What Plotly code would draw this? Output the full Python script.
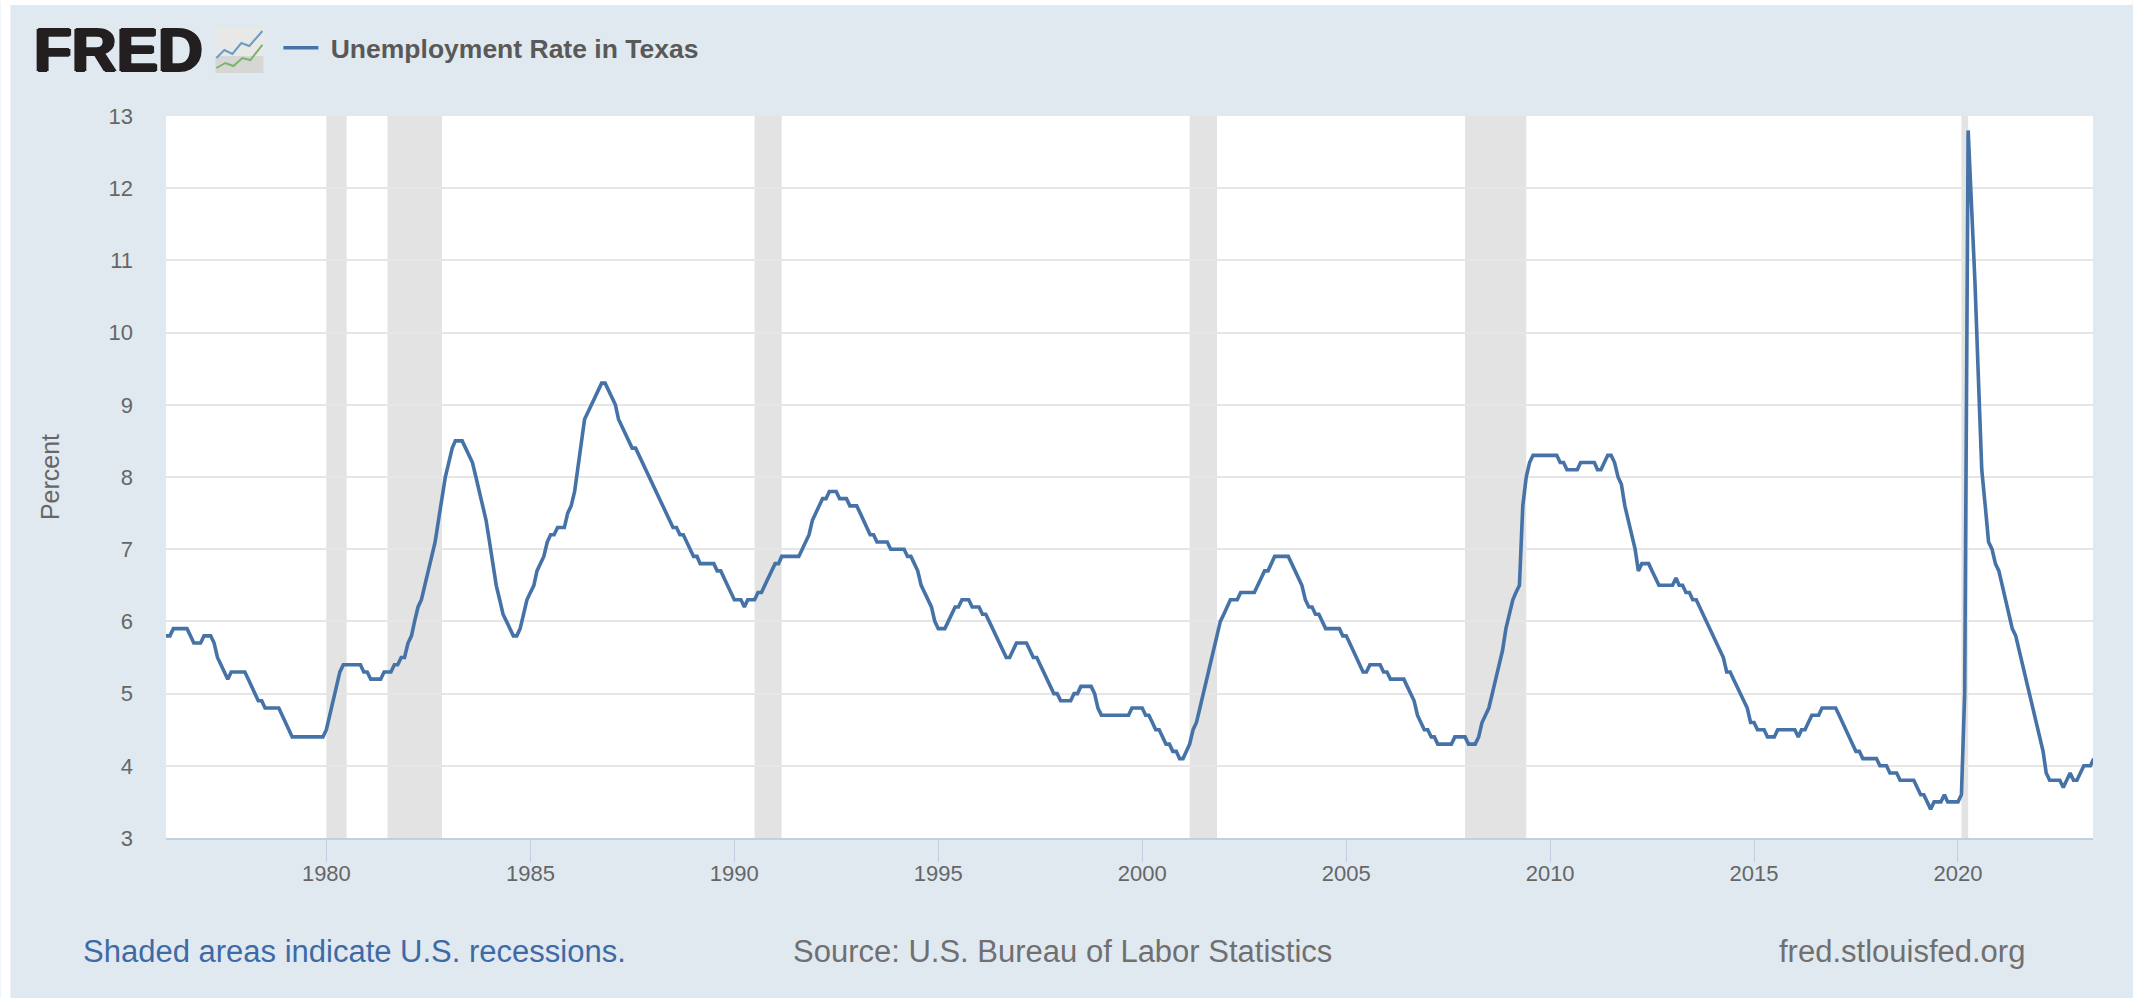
import pandas as pd
import plotly.graph_objects as go

# Monthly unemployment rate, percent (January to December)
y1976 = [5.8, 5.8, 5.8, 5.9, 5.9, 5.9, 5.9, 5.9, 5.8, 5.7, 5.7, 5.7]
y1977 = [5.8, 5.8, 5.8, 5.7, 5.5, 5.4, 5.3, 5.2, 5.3, 5.3, 5.3, 5.3]
y1978 = [5.3, 5.2, 5.1, 5.0, 4.9, 4.9, 4.8, 4.8, 4.8, 4.8, 4.8, 4.7]
y1979 = [4.6, 4.5, 4.4, 4.4, 4.4, 4.4, 4.4, 4.4, 4.4, 4.4, 4.4, 4.4]
y1980 = [4.5, 4.7, 4.9, 5.1, 5.3, 5.4, 5.4, 5.4, 5.4, 5.4, 5.4, 5.3]
y1981 = [5.3, 5.2, 5.2, 5.2, 5.2, 5.3, 5.3, 5.3, 5.4, 5.4, 5.5, 5.5]
y1982 = [5.7, 5.8, 6.0, 6.2, 6.3, 6.5, 6.7, 6.9, 7.1, 7.4, 7.7, 8.0]
y1983 = [8.2, 8.4, 8.5, 8.5, 8.5, 8.4, 8.3, 8.2, 8.0, 7.8, 7.6, 7.4]
y1984 = [7.1, 6.8, 6.5, 6.3, 6.1, 6.0, 5.9, 5.8, 5.8, 5.9, 6.1, 6.3]
y1985 = [6.4, 6.5, 6.7, 6.8, 6.9, 7.1, 7.2, 7.2, 7.3, 7.3, 7.3, 7.5]
y1986 = [7.6, 7.8, 8.1, 8.4, 8.8, 8.9, 9.0, 9.1, 9.2, 9.3, 9.3, 9.2]
y1987 = [9.1, 9.0, 8.8, 8.7, 8.6, 8.5, 8.4, 8.4, 8.3, 8.2, 8.1, 8.0]
y1988 = [7.9, 7.8, 7.7, 7.6, 7.5, 7.4, 7.3, 7.3, 7.2, 7.2, 7.1, 7.0]
y1989 = [6.9, 6.9, 6.8, 6.8, 6.8, 6.8, 6.8, 6.7, 6.7, 6.6, 6.5, 6.4]
y1990 = [6.3, 6.3, 6.3, 6.2, 6.3, 6.3, 6.3, 6.4, 6.4, 6.5, 6.6, 6.7]
y1991 = [6.8, 6.8, 6.9, 6.9, 6.9, 6.9, 6.9, 6.9, 7.0, 7.1, 7.2, 7.4]
y1992 = [7.5, 7.6, 7.7, 7.7, 7.8, 7.8, 7.8, 7.7, 7.7, 7.7, 7.6, 7.6]
y1993 = [7.6, 7.5, 7.4, 7.3, 7.2, 7.2, 7.1, 7.1, 7.1, 7.1, 7.0, 7.0]
y1994 = [7.0, 7.0, 7.0, 6.9, 6.9, 6.8, 6.7, 6.5, 6.4, 6.3, 6.2, 6.0]
y1995 = [5.9, 5.9, 5.9, 6.0, 6.1, 6.2, 6.2, 6.3, 6.3, 6.3, 6.2, 6.2]
y1996 = [6.2, 6.1, 6.1, 6.0, 5.9, 5.8, 5.7, 5.6, 5.5, 5.5, 5.6, 5.7]
y1997 = [5.7, 5.7, 5.7, 5.6, 5.5, 5.5, 5.4, 5.3, 5.2, 5.1, 5.0, 5.0]
y1998 = [4.9, 4.9, 4.9, 4.9, 5.0, 5.0, 5.1, 5.1, 5.1, 5.1, 5.0, 4.8]
y1999 = [4.7, 4.7, 4.7, 4.7, 4.7, 4.7, 4.7, 4.7, 4.7, 4.8, 4.8, 4.8]
y2000 = [4.8, 4.7, 4.7, 4.6, 4.5, 4.5, 4.4, 4.3, 4.3, 4.2, 4.2, 4.1]
y2001 = [4.1, 4.2, 4.3, 4.5, 4.6, 4.8, 5.0, 5.2, 5.4, 5.6, 5.8, 6.0]
y2002 = [6.1, 6.2, 6.3, 6.3, 6.3, 6.4, 6.4, 6.4, 6.4, 6.4, 6.5, 6.6]
y2003 = [6.7, 6.7, 6.8, 6.9, 6.9, 6.9, 6.9, 6.9, 6.8, 6.7, 6.6, 6.5]
y2004 = [6.3, 6.2, 6.2, 6.1, 6.1, 6.0, 5.9, 5.9, 5.9, 5.9, 5.9, 5.8]
y2005 = [5.8, 5.7, 5.6, 5.5, 5.4, 5.3, 5.3, 5.4, 5.4, 5.4, 5.4, 5.3]
y2006 = [5.3, 5.2, 5.2, 5.2, 5.2, 5.2, 5.1, 5.0, 4.9, 4.7, 4.6, 4.5]
y2007 = [4.5, 4.4, 4.4, 4.3, 4.3, 4.3, 4.3, 4.3, 4.4, 4.4, 4.4, 4.4]
y2008 = [4.3, 4.3, 4.3, 4.4, 4.6, 4.7, 4.8, 5.0, 5.2, 5.4, 5.6, 5.9]
y2009 = [6.1, 6.3, 6.4, 6.5, 7.6, 8.0, 8.2, 8.3, 8.3, 8.3, 8.3, 8.3]
y2010 = [8.3, 8.3, 8.3, 8.2, 8.2, 8.1, 8.1, 8.1, 8.1, 8.2, 8.2, 8.2]
y2011 = [8.2, 8.2, 8.1, 8.1, 8.2, 8.3, 8.3, 8.2, 8.0, 7.9, 7.6, 7.4]
y2012 = [7.2, 7.0, 6.7, 6.8, 6.8, 6.8, 6.7, 6.6, 6.5, 6.5, 6.5, 6.5]
y2013 = [6.5, 6.6, 6.5, 6.5, 6.4, 6.4, 6.3, 6.3, 6.2, 6.1, 6.0, 5.9]
y2014 = [5.8, 5.7, 5.6, 5.5, 5.3, 5.3, 5.2, 5.1, 5.0, 4.9, 4.8, 4.6]
y2015 = [4.6, 4.5, 4.5, 4.5, 4.4, 4.4, 4.4, 4.5, 4.5, 4.5, 4.5, 4.5]
y2016 = [4.5, 4.4, 4.5, 4.5, 4.6, 4.7, 4.7, 4.7, 4.8, 4.8, 4.8, 4.8]
y2017 = [4.8, 4.7, 4.6, 4.5, 4.4, 4.3, 4.2, 4.2, 4.1, 4.1, 4.1, 4.1]
y2018 = [4.1, 4.0, 4.0, 4.0, 3.9, 3.9, 3.9, 3.8, 3.8, 3.8, 3.8, 3.8]
y2019 = [3.7, 3.6, 3.6, 3.5, 3.4, 3.5, 3.5, 3.5, 3.6, 3.5, 3.5, 3.5]
y2020 = [3.5, 3.6, 5.0, 12.8, 11.8, 10.7, 9.4, 8.1, 7.6, 7.1, 7.0, 6.8]
y2021 = [6.7, 6.5, 6.3, 6.1, 5.9, 5.8, 5.6, 5.4, 5.2, 5.0, 4.8, 4.6]
y2022 = [4.4, 4.2, 3.9, 3.8, 3.8, 3.8, 3.8, 3.7, 3.8, 3.9, 3.8, 3.8]
y2023 = [3.9, 4.0, 4.0, 4.0, 4.1]

years = [y1976, y1977, y1978, y1979, y1980, y1981, y1982, y1983, y1984, y1985,
         y1986, y1987, y1988, y1989, y1990, y1991, y1992, y1993, y1994, y1995,
         y1996, y1997, y1998, y1999, y2000, y2001, y2002, y2003, y2004, y2005,
         y2006, y2007, y2008, y2009, y2010, y2011, y2012, y2013, y2014, y2015,
         y2016, y2017, y2018, y2019, y2020, y2021, y2022, y2023]
rate = [v for y in years for v in y]
months = pd.date_range("1976-01-01", periods=len(rate), freq="MS")

recession_start = ["1980-01-01", "1981-07-01", "1990-07-01", "2001-03-01", "2007-12-01", "2020-02-01"]
recession_end = ["1980-07-01", "1982-11-01", "1991-03-01", "2001-11-01", "2009-06-01", "2020-04-01"]

series_name = "Unemployment Rate in Texas"
y_title = "Percent"
note_left = "Shaded areas indicate U.S. recessions."
note_mid = "Source: U.S. Bureau of Labor Statistics"
note_right = "fred.stlouisfed.org"
logo_text = "FRED"

W, H = 2133, 998
L, R, T, B = 165.6, 2093.3, 116, 838
FONT = "Liberation Sans, Arial, sans-serif"
BG = "#e1e9f0"


def px(x):
    return (x - L) / (R - L)


def py(y):
    return (B - y) / (B - T)


def path(points):
    return "M " + " L ".join(f"{px(a):.5f},{py(b):.5f}" for a, b in points)


fig = go.Figure()
fig.add_trace(go.Scatter(x=months, y=rate, mode="lines", name="&nbsp;" + series_name,
                         line=dict(color="#4572a7", width=3.6), showlegend=True,
                         hovertemplate="%{x|%b %Y}: %{y}<extra></extra>"))

for s, e in zip(recession_start, recession_end):
    fig.add_shape(type="rect", xref="x", yref="paper", x0=s, x1=e, y0=0, y1=1,
                  fillcolor="#e3e3e3", line_width=0, layer="between")

# white strip around the panel, as in the picture
fig.add_shape(type="rect", xref="paper", yref="paper", x0=px(0), x1=px(10), y0=py(H), y1=py(0),
              fillcolor="white", line_width=0, layer="above")
fig.add_shape(type="rect", xref="paper", yref="paper", x0=px(0), x1=px(W), y0=py(5), y1=py(0),
              fillcolor="white", line_width=0, layer="above")

# FRED logo icon
fig.add_shape(type="rect", xref="paper", yref="paper", x0=px(215), x1=px(263), y0=py(73), y1=py(28),
              fillcolor="#e8e9e6", line_width=0, layer="above")
fig.add_shape(type="rect", xref="paper", yref="paper", x0=px(215), x1=px(263), y0=py(73), y1=py(56),
              fillcolor="#d6d7d4", line_width=0, layer="above")
fig.add_shape(type="path", xref="paper", yref="paper",
              path=path([(216, 58), (224, 50), (232, 54), (241, 43), (249, 46), (262, 31)]),
              line=dict(color="#6b9cc2", width=2), layer="above")
fig.add_shape(type="path", xref="paper", yref="paper",
              path=path([(216, 68), (225, 63), (233, 66), (242, 58), (250, 60), (262, 45)]),
              line=dict(color="#7db26b", width=2), layer="above")

annotations = [
    dict(text=logo_text, x=px(32), y=py(50), xanchor="left", yanchor="middle",
         font=dict(family=FONT, size=62, color="#231f20", weight="bold",
                   shadow="1.5px 0 0 #231f20, -1.5px 0 0 #231f20, 0 1px 0 #231f20, 0 -1px 0 #231f20")),
    dict(text=note_left, x=px(80.5), y=py(951), xanchor="left", yanchor="middle",
         font=dict(family=FONT, size=31, color="#3e6aa6")),
    dict(text=note_mid, x=px(790.5), y=py(951), xanchor="left", yanchor="middle",
         font=dict(family=FONT, size=31, color="#707070")),
    dict(text=note_right, x=px(1777), y=py(951), xanchor="left", yanchor="middle",
         font=dict(family=FONT, size=31, color="#707070")),
]
for a in annotations:
    a.update(xref="paper", yref="paper", showarrow=False)

fig.update_layout(
    width=W, height=H, autosize=False,
    margin=dict(l=L, r=W - R, t=T, b=H - B, pad=0),
    paper_bgcolor=BG, plot_bgcolor="white",
    font=dict(family=FONT, color="#555555"),
    annotations=annotations,
    legend=dict(orientation="h", x=px(278), y=py(48), xanchor="left", yanchor="middle",
                bgcolor="rgba(0,0,0,0)", itemwidth=35,
                font=dict(family=FONT, size=26.5, color="#595959", weight="bold")),
    xaxis=dict(type="date", range=["1976-01-26", "2023-04-24"], tick0="1980-01-01", dtick="M60",
               tickformat="%Y", showgrid=False, ticks="outside", ticklen=22, tickwidth=1,
               tickcolor="#c0d0e0", showline=True, linecolor="#c0d0e0", linewidth=1.5,
               ticklabelstandoff=-7,
               tickfont=dict(family=FONT, size=22, color="#666666"), zeroline=False),
    yaxis=dict(range=[3, 13], tick0=3, dtick=1, showgrid=True, gridcolor="#e6e6e6", gridwidth=2,
               ticks="", showline=False, zeroline=False, ticklabelstandoff=32,
               tickfont=dict(family=FONT, size=22, color="#666666"),
               title=dict(text=y_title, font=dict(family=FONT, size=25, color="#666666"), standoff=41)),
)

fig.write_html("out.html", config=dict(displayModeBar=False),
               post_script="document.body.style.margin='0';")
